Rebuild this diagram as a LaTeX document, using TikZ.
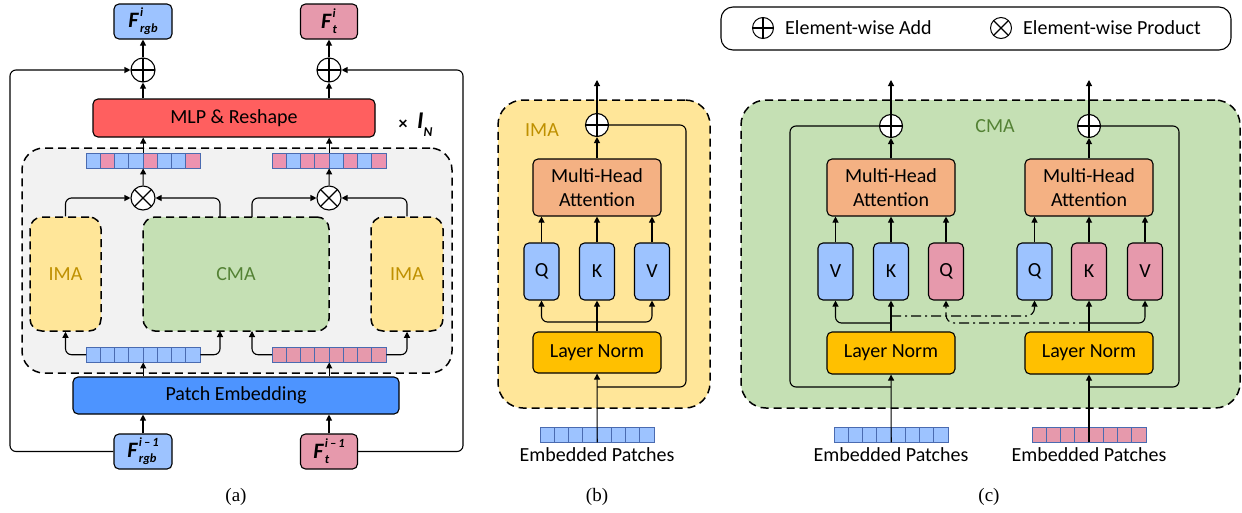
\documentclass[tikz,border=0pt]{standalone}
\usepackage{fontspec}
\setmainfont{Carlito}
\newfontfamily\capfont{Liberation Serif}
\usetikzlibrary{arrows.meta}
\definecolor{lblue}{HTML}{9DC3FF}
\definecolor{lpink}{HTML}{E699AC}
\definecolor{cpink}{HTML}{EC93B0}
\definecolor{cellline}{HTML}{4A6BB0}
\definecolor{mlpred}{HTML}{FF5F5F}
\definecolor{peblue}{HTML}{4D94FF}
\definecolor{graybg}{HTML}{F2F2F2}
\definecolor{imay}{HTML}{FFE699}
\definecolor{cmag}{HTML}{C5E0B4}
\definecolor{imatext}{HTML}{BF9000}
\definecolor{cmatext}{HTML}{548235}
\definecolor{mhaor}{HTML}{F4B183}
\definecolor{lnor}{HTML}{FFC000}
\newcommand{\feat}[2]{{\fontsize{22}{22}\selectfont\bfseries\itshape F}\kern1.5pt{\fontsize{12.5}{12.5}\selectfont\bfseries\itshape\setbox0\hbox{\raisebox{10.5pt}{#1}}\setbox2\hbox{\raisebox{-5.5pt}{#2}}\ifdim\wd0>\wd2 \rlap{\box2}\box0\else\rlap{\box0}\box2\fi}}
\newcommand{\tokstrip}[4]{%
  \foreach \c [count=\i from 0] in {#4} {\draw[cell, fill=\c] ({#2+\i*14.25},#3) rectangle ++(14.25,15);}
  \node[inner sep=0pt, minimum width=114pt, minimum height=15pt, anchor=north west] (#1) at (#2,#3) {};}
\tikzset{
  bx/.style={draw, line width=1.1pt, rounded corners=5pt, inner sep=0pt, align=center},
  arr/.style={line width=1.1pt, -{Triangle[length=6pt,width=6pt]}},
  ln/.style={line width=1.1pt},
  bgbox/.style={draw, line width=1.5pt, dash pattern=on 8pt off 5pt, rounded corners=22pt, inner sep=0pt},
  opc/.style={circle, draw, fill=white, line width=1.1pt, minimum size=24pt, inner sep=0pt},
  addop/.style={opc, path picture={\draw[line width=1.1pt] (path picture bounding box.north) -- (path picture bounding box.south) (path picture bounding box.west) -- (path picture bounding box.east);}},
  mulop/.style={opc, path picture={\draw[line width=1.1pt] (path picture bounding box.north west) -- (path picture bounding box.south east) (path picture bounding box.north east) -- (path picture bounding box.south west);}},
  cell/.style={draw=cellline, line width=0.8pt},
  dashdot/.style={line width=1.1pt, dash pattern=on 10pt off 4pt on 2pt off 4pt},
  txt/.style={inner sep=0pt},
  capstyle/.style={inner sep=0pt, font=\capfont\fontsize{19}{19}\selectfont},
}
\begin{document}
\begin{tikzpicture}[x=1pt,y=-1pt, font=\fontsize{20}{24}\selectfont]
\useasboundingbox (0,0) rectangle (1242,512);
%%%%%%%%%%%%%%%% Panel (a)
\node[bgbox, fill=graybg, minimum width=430pt, minimum height=225pt] (grayA) at (237,260.5) {};
\node[bx, fill=lblue, minimum width=58pt, minimum height=35pt] (fRgbOut) at (143,21.5) {\feat{i}{rgb}};
\node[bx, fill=lpink, minimum width=57pt, minimum height=35pt] (fTOut) at (329,21.5) {\feat{i}{t}};
\node[addop] (addL) at (143,70) {};
\node[addop] (addR) at (329,70) {};
\node[bx, fill=mlpred, minimum width=282pt, minimum height=38pt] (mlp) at (234,118) {MLP \& Reshape};
\node[txt, font=\bfseries\fontsize{18}{18}\selectfont] (times) at (403,125) {×};
\node[txt, anchor=west, font=\bfseries\itshape\fontsize{24}{24}\selectfont] (IN) at (417,125) {I\raisebox{-8pt}{\fontsize{13.5}{13.5}\selectfont N}};
\tokstrip{stripTL}{86}{153}{lblue,cpink,lblue,lblue,cpink,lblue,lblue,cpink}
\tokstrip{stripTR}{272}{153}{cpink,lblue,cpink,cpink,lblue,cpink,lblue,cpink}
\node[mulop] (mulL) at (143,198) {};
\node[mulop] (mulR) at (329,198) {};
\node[bgbox, rounded corners=12pt, fill=imay, minimum width=71pt, minimum height=114pt, text=imatext] (imaL) at (65.5,274) {IMA};
\node[bgbox, rounded corners=12pt, fill=cmag, minimum width=186pt, minimum height=114pt, text=cmatext] (cmaA) at (236,274) {CMA};
\node[bgbox, rounded corners=12pt, fill=imay, minimum width=72pt, minimum height=114pt, text=imatext] (imaR) at (407,274) {IMA};
\tokstrip{stripBL}{86}{347}{lblue,lblue,lblue,lblue,lblue,lblue,lblue,lblue}
\tokstrip{stripBR}{272}{347}{lpink,lpink,lpink,lpink,lpink,lpink,lpink,lpink}
\node[bx, fill=peblue, minimum width=326pt, minimum height=37pt] (pe) at (236,395.5) {Patch Embedding};
\node[bx, fill=lblue, minimum width=58pt, minimum height=35pt] (fRgbIn) at (143,451.5) {\feat{i\,–\,1}{rgb}};
\node[bx, fill=lpink, minimum width=57pt, minimum height=35pt] (fTIn) at (329,451.5) {\feat{i\,–\,1}{t}};
\node[capstyle] (capA) at (236,497) {(a)};
\coordinate (cmaPL) at (220,217);
\coordinate (cmaPR) at (252,217);
\coordinate (cmaBL) at (220,331);
\coordinate (cmaBR) at (252,331);
\coordinate (skL1) at (10,451.5);
\coordinate (skL2) at (10,70);
\coordinate (skR1) at (463,451.5);
\coordinate (skR2) at (463,70);
\draw[arr] (addL) -- (fRgbOut);
\draw[arr] (addR) -- (fTOut);
\draw[arr] (mlp.north -| addL) -- (addL);
\draw[arr] (mlp.north -| addR) -- (addR);
\draw[arr] (stripTL.north) -- (stripTL.north |- mlp.south);
\draw[arr] (stripTR.north) -- (stripTR.north |- mlp.south);
\draw[arr] (mulL) -- (stripTL);
\draw[arr] (mulR) -- (stripTR);
\draw[arr, rounded corners=6pt] (imaL.north) |- (mulL.west);
\draw[arr, rounded corners=6pt] (cmaPL) |- (mulL.east);
\draw[arr, rounded corners=6pt] (cmaPR) |- (mulR.west);
\draw[arr, rounded corners=6pt] (imaR.north) |- (mulR.east);
\draw[arr, rounded corners=6pt] (stripBL.west) -| (imaL.south);
\draw[arr, rounded corners=6pt] (stripBL.east) -| (cmaBL);
\draw[arr, rounded corners=6pt] (stripBR.west) -| (cmaBR);
\draw[arr, rounded corners=6pt] (stripBR.east) -| (imaR.south);
\draw[arr] (pe.north -| stripBL) -- (stripBL);
\draw[arr] (pe.north -| stripBR) -- (stripBR);
\draw[arr] (fRgbIn) -- (pe.south -| fRgbIn);
\draw[arr] (fTIn) -- (pe.south -| fTIn);
\draw[arr, rounded corners=6pt] (fRgbIn.west) -- (skL1) -- (skL2) -- (addL.west);
\draw[arr, rounded corners=6pt] (fTIn.east) -- (skR1) -- (skR2) -- (addR.east);
%%%%%%%%%%%%%%%% Panel (b)
\node[bgbox, rounded corners=25pt, fill=imay, minimum width=212pt, minimum height=308pt] (imaBgB) at (604,254) {};
\node[txt, text=imatext] (imaLabB) at (542,130) {IMA};
\node[addop, minimum size=23pt] (addB) at (597,125) {};
\coordinate (outB) at (597,80);
\node[bx, fill=mhaor, minimum width=128pt, minimum height=57pt] (mhaB) at (597,187.5) {Multi-Head\\Attention};
\node[bx, fill=lblue, minimum width=35pt, minimum height=57pt] (qB) at (541.5,271.5) {Q};
\node[bx, fill=lblue, minimum width=35pt, minimum height=57pt] (kB) at (597,271.5) {K};
\node[bx, fill=lblue, minimum width=35pt, minimum height=57pt] (vB) at (652,271.5) {V};
\node[bx, fill=lnor, minimum width=128pt, minimum height=41pt] (lnB) at (597,352.5) {Layer Norm};
\tokstrip{stripB}{540}{427}{lblue,lblue,lblue,lblue,lblue,lblue,lblue,lblue}
\node[txt] (embB) at (597,455) {Embedded Patches};
\node[capstyle] (capB) at (597,497) {(b)};
\coordinate (brQKB) at (597,322);
\coordinate (brB) at (597,387);
\coordinate (skB) at (686,125);
\draw[arr] (addB) -- (outB);
\draw[arr] (mhaB) -- (addB);
\draw[arr] (qB) -- (qB |- mhaB.south);
\draw[arr] (kB) -- (kB |- mhaB.south);
\draw[arr] (vB) -- (vB |- mhaB.south);
\draw[arr] (lnB) -- (kB);
\draw[arr, rounded corners=6pt] (brQKB) -| (qB.south);
\draw[arr, rounded corners=6pt] (brQKB) -| (vB.south);
\draw[arr] (stripB.south) -- (lnB);
\draw[ln, rounded corners=6pt] (brB) -| (skB) -- (addB.east);
%%%%%%%%%%%%%%%% Panel (c)
\node[bx, rounded corners=12pt, fill=white, minimum width=510pt, minimum height=43pt] (legend) at (976,28.5) {};
\node[addop, minimum size=21pt, line width=1pt] (legAdd) at (763,28) {};
\node[txt, anchor=west] (legAddT) at (785,28) {Element-wise Add};
\node[mulop, minimum size=21pt, line width=1pt] (legMul) at (1001,28) {};
\node[txt, anchor=west] (legMulT) at (1023,28) {Element-wise Product};
\node[bgbox, rounded corners=25pt, fill=cmag, minimum width=499pt, minimum height=308pt] (cmaBg) at (990.5,254) {};
\node[txt, text=cmatext] (cmaLab) at (995,126) {CMA};
\node[addop, minimum size=23pt] (addC1) at (891,126) {};
\node[addop, minimum size=23pt] (addC2) at (1089,126) {};
\coordinate (outC1) at (891,80);
\coordinate (outC2) at (1089,80);
\node[bx, fill=mhaor, minimum width=128pt, minimum height=57pt] (mhaC1) at (891,187.5) {Multi-Head\\Attention};
\node[bx, fill=mhaor, minimum width=128pt, minimum height=57pt] (mhaC2) at (1089,187.5) {Multi-Head\\Attention};
\node[bx, fill=lblue, minimum width=35pt, minimum height=57pt] (vC1) at (835.5,271.5) {V};
\node[bx, fill=lblue, minimum width=35pt, minimum height=57pt] (kC1) at (891,271.5) {K};
\node[bx, fill=lpink, minimum width=35pt, minimum height=57pt] (qC1) at (946,271.5) {Q};
\node[bx, fill=lblue, minimum width=35pt, minimum height=57pt] (qC2) at (1034.5,271.5) {Q};
\node[bx, fill=lpink, minimum width=35pt, minimum height=57pt] (kC2) at (1089,271.5) {K};
\node[bx, fill=lpink, minimum width=35pt, minimum height=57pt] (vC2) at (1145,271.5) {V};
\node[bx, fill=lnor, minimum width=128pt, minimum height=42pt] (lnC1) at (891,353) {Layer Norm};
\node[bx, fill=lnor, minimum width=128pt, minimum height=42pt] (lnC2) at (1089,353) {Layer Norm};
\tokstrip{stripC1}{834}{427}{lblue,lblue,lblue,lblue,lblue,lblue,lblue,lblue}
\tokstrip{stripC2}{1032}{427}{lpink,lpink,lpink,lpink,lpink,lpink,lpink,lpink}
\node[txt] (embC1) at (891,455) {Embedded Patches};
\node[txt] (embC2) at (1089,455) {Embedded Patches};
\node[capstyle] (capC) at (989,497) {(c)};
\coordinate (brC1) at (891,323);
\coordinate (ddC1) at (891,316);
\coordinate (brC2) at (1089,323);
\coordinate (skC1a) at (891,387);
\coordinate (skC1b) at (790,126);
\coordinate (skC2a) at (1089,387);
\coordinate (skC2b) at (1179,126);
\draw[arr] (addC1) -- (outC1);
\draw[arr] (addC2) -- (outC2);
\draw[arr] (mhaC1) -- (addC1);
\draw[arr] (mhaC2) -- (addC2);
\foreach \b/\m in {vC1/mhaC1,kC1/mhaC1,qC1/mhaC1,qC2/mhaC2,kC2/mhaC2,vC2/mhaC2}
  \draw[arr] (\b) -- (\b |- \m.south);
\draw[arr] (lnC1) -- (kC1);
\draw[arr] (lnC2) -- (kC2);
\draw[arr, rounded corners=6pt] (brC1) -| (vC1.south);
\draw[arr, rounded corners=6pt] (brC2) -| (vC2.south);
\draw[dashdot, -{Triangle[length=6pt,width=6pt]}, rounded corners=8pt] (ddC1) -| (qC2.south);
\draw[dashdot, -{Triangle[length=6pt,width=6pt]}, rounded corners=8pt] (brC2) -| (qC1.south);
\draw[arr] (stripC1.south) -- (lnC1);
\draw[arr] (stripC2.south -| lnC2) -- (lnC2);
\draw[ln, rounded corners=6pt] (skC1a) -| (skC1b) -- (addC1.west);
\draw[ln, rounded corners=6pt] (skC2a) -| (skC2b) -- (addC2.east);
\end{tikzpicture}
\end{document}
